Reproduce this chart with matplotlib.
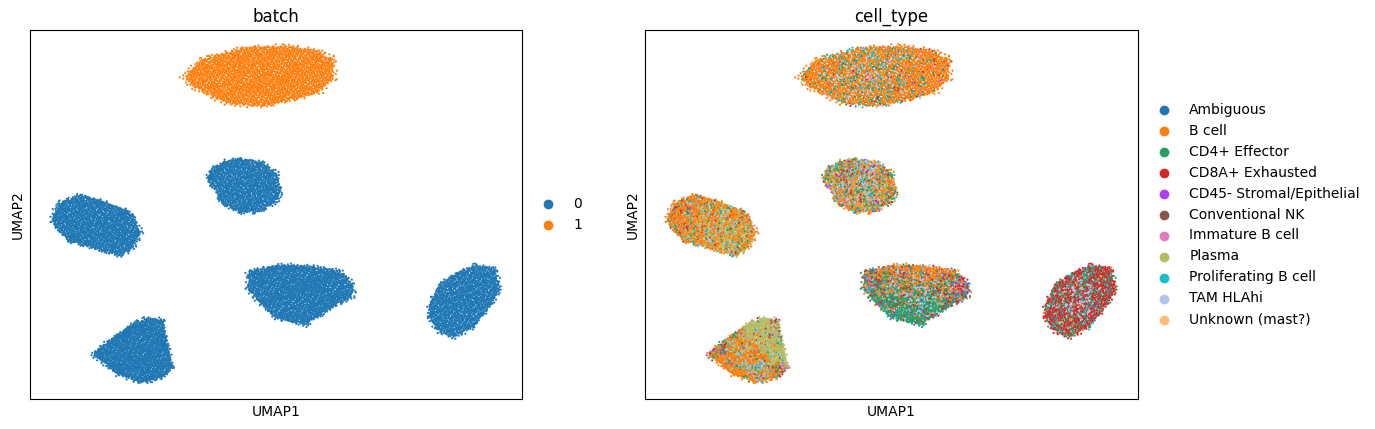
import numpy as np
import matplotlib
matplotlib.use("Agg")
import matplotlib.pyplot as plt
from matplotlib.path import Path

# cluster outlines in UMAP units
cluster_names = ["top", "middle", "left", "bottom_mid", "right", "bottom"]
cluster_outlines = [
    [(6.3, 13.1), (7.0, 13.8), (8.1, 14.1), (8.7, 14.3), (10.3, 14.35), (11.5, 14.2),
     (12.2, 13.9), (12.3, 13.7), (12.3, 13.0), (11.8, 12.5), (10.9, 12.2), (9.5, 11.9),
     (8.1, 12.0), (7.2, 12.4), (6.5, 12.8)],
    [(8.6, 9.8), (9.5, 9.6), (10.0, 9.2), (10.2, 8.5), (10.0, 8.0), (9.3, 7.6),
     (8.5, 7.6), (7.7, 8.0), (7.6, 8.4), (7.3, 8.8), (7.2, 9.0), (7.4, 9.4), (8.0, 9.7)],
    [(2.0, 8.3), (3.1, 8.0), (4.1, 7.6), (4.5, 6.8), (4.2, 6.2), (3.7, 5.8),
     (2.7, 6.1), (1.6, 6.4), (1.0, 7.0), (0.9, 7.4), (1.2, 8.0)],
    [(8.9, 5.2), (10.3, 5.45), (11.5, 5.4), (12.6, 5.2), (13.1, 4.7), (13.1, 4.15),
     (12.2, 3.7), (11.2, 3.0), (10.0, 3.3), (9.35, 3.9), (8.9, 4.4), (8.85, 4.6)],
    [(18.1, 5.45), (18.9, 5.3), (19.1, 4.5), (18.8, 3.9), (18.0, 2.9), (17.2, 2.5),
     (16.55, 2.8), (16.2, 3.35), (16.25, 3.9), (16.65, 4.7), (17.35, 5.15)],
    [(4.75, 3.3), (5.4, 3.2), (5.55, 2.4), (5.8, 1.25), (5.4, 0.9), (4.6, 0.65),
     (3.55, 1.0), (2.55, 1.8), (3.1, 2.3), (4.05, 3.0)],
]
cluster_sizes = [2800, 1500, 1900, 2400, 1700, 1900]
cluster_batch = ["1", "0", "0", "0", "0", "0"]

batch_categories = ["0", "1"]
batch_colors = ["#1f77b4", "#ff7f0e"]

cell_types = ["Ambiguous", "B cell", "CD4+ Effector", "CD8A+ Exhausted",
              "CD45- Stromal/Epithelial", "Conventional NK", "Immature B cell",
              "Plasma", "Proliferating B cell", "TAM HLAhi", "Unknown (mast?)"]
cell_type_colors = ["#1f77b4", "#ff7f0e", "#279e68", "#d62728", "#aa40fc", "#8c564b",
                    "#e377c2", "#b5bd61", "#17becf", "#aec7e8", "#ffbb78"]

# fraction of each cell type per cluster (rows follow cluster_names, columns cell_types)
composition = [
    [0.005, 0.75, 0.07, 0.02, 0.005, 0.01, 0.02, 0.01, 0.04, 0.07, 0.0],
    [0.0, 0.33, 0.16, 0.05, 0.03, 0.02, 0.04, 0.20, 0.06, 0.11, 0.0],
    [0.0, 0.55, 0.08, 0.04, 0.005, 0.01, 0.02, 0.20, 0.03, 0.065, 0.0],
    [0.0, 0.35, 0.33, 0.08, 0.02, 0.03, 0.02, 0.01, 0.04, 0.12, 0.0],
    [0.02, 0.02, 0.20, 0.50, 0.0, 0.08, 0.0, 0.0, 0.04, 0.13, 0.01],
    [0.0, 0.30, 0.06, 0.04, 0.01, 0.02, 0.04, 0.40, 0.05, 0.08, 0.0],
]

# where a cell type gathers inside its cluster: (cluster, cell type, u, v, spread)
type_focus = [
    ("top", "TAM HLAhi", 9.0, 13.3, 0.8),
    ("top", "Proliferating B cell", 9.2, 13.2, 1.2),
    ("top", "CD4+ Effector", 9.0, 13.0, 1.4),
    ("middle", "TAM HLAhi", 8.9, 8.7, 0.6),
    ("left", "TAM HLAhi", 2.9, 6.9, 0.6),
    ("left", "Plasma", 3.4, 6.6, 0.9),
    ("bottom_mid", "B cell", 11.0, 5.6, 0.8),
    ("bottom_mid", "CD4+ Effector", 10.8, 3.4, 0.9),
    ("bottom_mid", "TAM HLAhi", 11.0, 4.3, 0.6),
    ("right", "TAM HLAhi", 17.6, 4.0, 0.5),
    ("bottom", "Plasma", 5.0, 2.7, 0.8),
    ("bottom", "B cell", 4.0, 1.0, 0.9),
    ("bottom", "TAM HLAhi", 4.5, 1.9, 0.5),
]


def halton(idx, base):
    idx = idx.copy()
    out = np.zeros(len(idx))
    f = 1.0
    while np.any(idx > 0):
        f /= base
        out += f * (idx % base)
        idx //= base
    return out


def fill_cluster(outline, n, start):
    pts_arr = np.array(outline)
    centre = pts_arr.mean(axis=0)
    inner = Path(outline)
    outer = Path(centre + (pts_arr - centre) * 1.07)
    lo, hi = (centre + (pts_arr - centre) * 1.07).min(axis=0), (centre + (pts_arr - centre) * 1.07).max(axis=0)
    got = np.empty((0, 2))
    k = start
    while len(got) < n:
        idx = np.arange(k, k + 6 * n + 50)
        k += len(idx)
        xy = np.column_stack([lo[0] + halton(idx, 2) * (hi[0] - lo[0]),
                              lo[1] + halton(idx, 3) * (hi[1] - lo[1])])
        ins = inner.contains_points(xy)
        rim = outer.contains_points(xy) & ~ins & (halton(idx, 5) < 0.25)
        got = np.vstack([got, xy[ins | rim]])
    return got[:n], k


coords, batch_lab, type_lab = [], [], []
seq = 1
for ci, name in enumerate(cluster_names):
    n = cluster_sizes[ci]
    pts, seq = fill_cluster(cluster_outlines[ci], n, seq)
    w = np.tile(np.array(composition[ci], float), (n, 1))
    for fc, ft, fu, fv, sig in type_focus:
        if fc == name:
            ti = cell_types.index(ft)
            d2 = (pts[:, 0] - fu) ** 2 + (pts[:, 1] - fv) ** 2
            w[:, ti] *= 0.1 + 3.0 * np.exp(-d2 / (2 * sig ** 2))
    cum = np.cumsum(w / w.sum(axis=1, keepdims=True), axis=1)
    pick = halton(np.arange(seq, seq + n), 7)
    seq += n
    lab = (pick[:, None] > cum).sum(axis=1).clip(0, len(cell_types) - 1)
    coords.append(pts)
    batch_lab += [cluster_batch[ci]] * n
    type_lab.append(lab)

coords = np.vstack(coords)
batch_lab = np.array(batch_lab)
type_lab = np.concatenate(type_lab)
order = np.argsort(halton(np.arange(1, len(coords) + 1), 11))
coords, batch_lab, type_lab = coords[order], batch_lab[order], type_lab[order]

size = 120000 / len(coords)

fig = plt.figure(figsize=(13.75, 4.29), dpi=100)
ax1 = fig.add_axes([30 / 1375, 30 / 429, 492 / 1375, 369 / 429])
ax2 = fig.add_axes([645 / 1375, 30 / 429, 493 / 1375, 369 / 429])

bcol = np.array([batch_colors[batch_categories.index(b)] for b in batch_lab])
ax1.scatter(coords[:, 0], coords[:, 1], c=bcol, s=size, marker=".", linewidths=0)
tcol = np.array(cell_type_colors)[type_lab]
ax2.scatter(coords[:, 0], coords[:, 1], c=tcol, s=size, marker=".", linewidths=0)

for ax, title, cats, cols in [(ax1, "batch", batch_categories, batch_colors),
                              (ax2, "cell_type", cell_types, cell_type_colors)]:
    ax.set_xlim(0, 20)
    ax.set_ylim(0, 15)
    ax.set_xticks([])
    ax.set_yticks([])
    ax.set_xlabel("UMAP1")
    ax.set_ylabel("UMAP2")
    ax.set_title(title)
    for cat, col in zip(cats, cols):
        ax.scatter([], [], c=col, label=cat)
    ax.legend(frameon=False, loc="center left", bbox_to_anchor=(1, 0.5))

fig.savefig("out.png", dpi=100)
